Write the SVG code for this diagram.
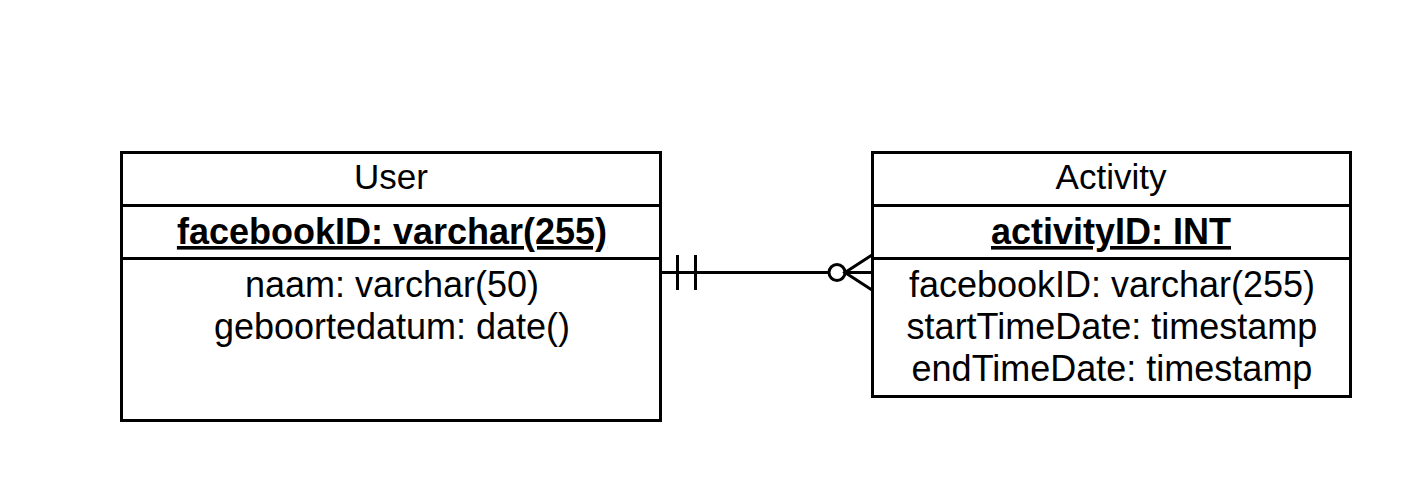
<svg xmlns="http://www.w3.org/2000/svg" width="1416" height="480" viewBox="0 0 1416 480">
<style>
.box{fill:#fff;stroke:#000;stroke-width:3}
.div{stroke:#000;stroke-width:3}
.t{font-family:"Liberation Sans",Arial,sans-serif;font-size:35px;fill:#000;text-anchor:middle}
.a{font-family:"Liberation Sans",Arial,sans-serif;font-size:36px;fill:#000;text-anchor:middle}
.pk{font-family:"Liberation Sans",Arial,sans-serif;font-size:36px;font-weight:bold;fill:#000;text-anchor:middle;text-decoration:underline}
.c{stroke:#000;stroke-width:3;fill:none}
</style>
<rect width="1416" height="480" fill="#fff"/>
<g id="user">
<rect class="box" x="121.5" y="152.5" width="539" height="268"/>
<line class="div" x1="121.5" y1="205.5" x2="660.5" y2="205.5"/>
<line class="div" x1="121.5" y1="258.5" x2="660.5" y2="258.5"/>
<text class="t" x="391" y="189">User</text>
<text class="pk" x="392" y="244">facebookID: varchar(255)</text>
<text class="a" x="392" y="297">naam: varchar(50)</text>
<text class="a" x="392" y="339">geboortedatum: date()</text>
</g>
<g id="activity">
<rect class="box" x="872.5" y="152.5" width="478" height="244"/>
<line class="div" x1="872.5" y1="205.5" x2="1350.5" y2="205.5"/>
<line class="div" x1="872.5" y1="258.5" x2="1350.5" y2="258.5"/>
<text class="t" x="1111" y="189">Activity</text>
<text class="pk" x="1111" y="244">activityID: INT</text>
<text class="a" x="1112" y="297">facebookID: varchar(255)</text>
<text class="a" x="1112" y="339">startTimeDate: timestamp</text>
<text class="a" x="1112" y="381">endTimeDate: timestamp</text>
</g>
<g id="connectors">
<line class="c" x1="661" y1="272.5" x2="829" y2="272.5"/>
<line class="c" x1="677.5" y1="255" x2="677.5" y2="290"/>
<line class="c" x1="695.5" y1="255" x2="695.5" y2="290"/>
<circle cx="837" cy="272.5" r="8" fill="#fff" stroke="#000" stroke-width="3"/>
<line class="c" x1="845" y1="272.5" x2="872" y2="272.5"/>
<polyline class="c" points="872,255 845,272.5 872,290"/>
</g>
</svg>
